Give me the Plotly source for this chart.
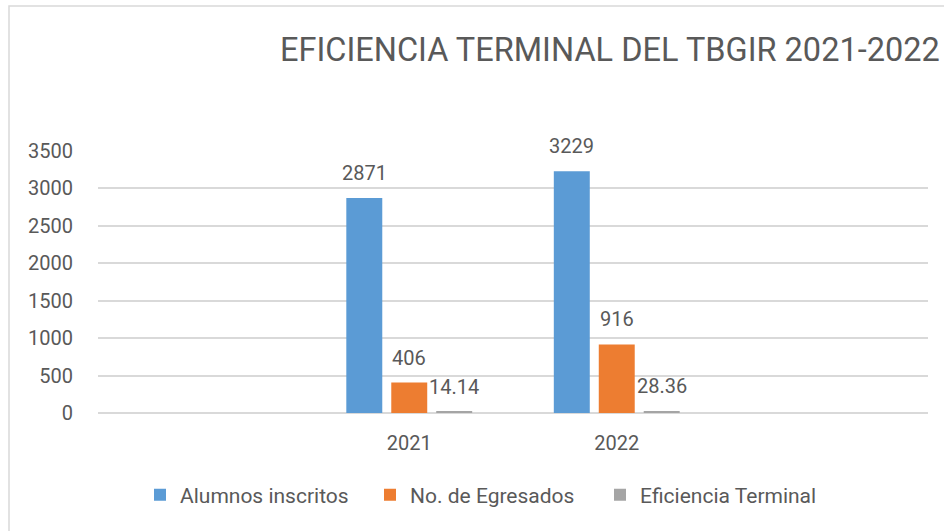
import plotly.graph_objects as go

categories = ["2021", "2022"]
alumnos_inscritos = [2871, 3229]
no_egresados = [406, 916]
eficiencia_terminal = [14.14, 28.36]
label_alumnos = ["2871", "3229"]
label_egresados = ["406", "916"]
label_eficiencia = ["14.14", "28.36"]
series_names = ["Alumnos inscritos", "No. de Egresados", "Eficiencia Terminal"]
colors = ["#5B9BD5", "#ED7D31", "#A5A5A5"]
y_ticks = [0, 500, 1000, 1500, 2000, 2500, 3000, 3500]

FONT = "Roboto, Calibri, Carlito, sans-serif"
TXT = "#595959"
BARGAP = 0.35
BARGROUPGAP = 0.2

series = [alumnos_inscritos, no_egresados, eficiencia_terminal]
labels = [label_alumnos, label_egresados, label_eficiencia]

fig = go.Figure()
for name, vals, col in zip(series_names, series, colors):
    fig.add_trace(go.Bar(x=categories, y=vals, name=name, marker_color=col,
                         marker_line_width=0, hoverinfo="x+y+name"))

n = len(series)
slot = (1 - BARGAP) / n
annotations = []
for i, (vals, labs) in enumerate(zip(series, labels)):
    for j, (v, t) in enumerate(zip(vals, labs)):
        annotations.append(dict(
            x=j + (i - (n - 1) / 2) * slot, y=v, xref="x", yref="y",
            text=t, showarrow=False, yanchor="middle", yshift=25,
            font=dict(family=FONT, size=20, color=TXT)))

fig.update_layout(
    width=944, height=531,
    margin=dict(l=98, r=16, t=151, b=118),
    paper_bgcolor="white", plot_bgcolor="white",
    barmode="group", bargap=BARGAP, bargroupgap=BARGROUPGAP,
    font=dict(family=FONT, color=TXT),
    title=dict(text="EFICIENCIA TERMINAL DEL TBGIR 2021-2022",
               x=280 / 944, xref="container", xanchor="left",
               y=1 - 50 / 531, yref="container", yanchor="middle",
               font=dict(family=FONT, size=32.5, color=TXT)),
    xaxis=dict(type="category", range=[-1.5, 2.5], showgrid=False,
               showline=False, zeroline=False, ticks="",
               tickfont=dict(family=FONT, size=20, color=TXT),
               ticklabelstandoff=16),
    yaxis=dict(range=[0, 3500], tickvals=y_ticks, showgrid=True,
               gridcolor="#D9D9D9", gridwidth=1.5, zeroline=True,
               zerolinecolor="#D9D9D9", zerolinewidth=1.5, showline=False,
               ticks="", tickfont=dict(family=FONT, size=20, color=TXT),
               ticklabelstandoff=24),
    legend=dict(orientation="h", x=(140 - 98) / 830, xanchor="left",
                y=-(495 - 413) / 262, yanchor="middle", entrywidth=185,
                font=dict(family=FONT, size=21, color=TXT),
                bgcolor="rgba(0,0,0,0)"),
    annotations=annotations,
    shapes=[dict(type="rect", xref="paper", yref="paper",
                 x0=(9 - 98) / 830, x1=(980 - 98) / 830,
                 y0=-(560 - 413) / 262, y1=1 + (151 - 6) / 262,
                 line=dict(color="#D9D9D9", width=1.5),
                 fillcolor="rgba(0,0,0,0)", layer="below")],
)

fig.write_html("out.html", config={"displayModeBar": False},
               post_script="document.body.style.margin='0';document.body.style.overflow='hidden';")
